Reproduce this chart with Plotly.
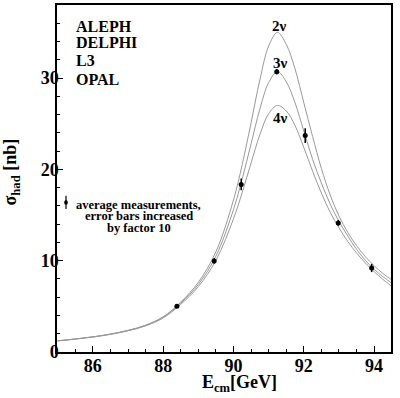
import plotly.graph_objects as go

# ---- data ----
energy = [85.0, 85.5, 86.0, 86.5, 87.0, 87.5, 88.0, 88.5, 89.0, 89.5, 90.0, 90.25,
          90.5, 90.75, 91.0, 91.25, 91.5, 91.75, 92.0, 92.25, 92.5, 92.75, 93.0,
          93.25, 93.5, 93.75, 94.0, 94.25, 94.5]
sigma_2nu = [1.23, 1.43, 1.66, 1.97, 2.37, 2.94, 3.86, 5.47, 7.63, 10.97, 16.65, 20.56,
             25.1, 29.8, 33.5, 35.0, 33.7, 31.0, 27.3, 23.6, 20.1, 17.2, 14.9,
             13.1, 11.65, 10.45, 9.45, 8.6, 7.9]
sigma_3nu = [1.22, 1.42, 1.65, 1.95, 2.35, 2.9, 3.8, 5.35, 7.4, 10.5, 15.6, 19.0,
             22.8, 26.6, 29.5, 30.7, 29.6, 27.3, 24.2, 21.1, 18.5, 16.2, 14.3,
             12.7, 11.25, 10.05, 9.05, 8.25, 7.55]
sigma_4nu = [1.21, 1.41, 1.64, 1.93, 2.32, 2.86, 3.73, 5.22, 7.16, 10.03, 14.59, 17.5,
             20.7, 23.8, 26.1, 27.0, 26.4, 24.8, 22.4, 19.8, 17.4, 15.3, 13.6,
             12.1, 10.85, 9.75, 8.8, 7.95, 7.2]

meas_E = [88.39, 89.45, 90.22, 91.23, 92.04, 92.98, 93.93]
meas_sigma = [5.02, 9.97, 18.35, 30.7, 23.7, 14.14, 9.2]
meas_err = [0.2, 0.3, 0.65, 0.3, 0.8, 0.3, 0.45]

curve_labels = ["2\u03bd", "3\u03bd", "4\u03bd"]
curve_label_pos = [(91.31, 35.65), (91.33, 31.7), (91.33, 25.6)]
experiments = ["ALEPH", "DELPHI", "L3", "OPAL"]
experiment_y = [35.7, 33.84, 31.87, 29.8]
legend_lines = ["average measurements,", "error bars increased", "by factor 10"]
legend_y = [16.1, 14.85, 13.6]

x_ticks = [86, 88, 90, 92, 94]
y_ticks = [0, 10, 20, 30]

SERIF = "Liberation Serif"
curve_color = "#999999"

fig = go.Figure()
for ys in (sigma_2nu, sigma_3nu, sigma_4nu):
    fig.add_trace(go.Scatter(x=energy, y=ys, mode="lines", line_shape="spline",
                             line=dict(color=curve_color, width=1), showlegend=False,
                             hoverinfo="skip"))

fig.add_trace(go.Scatter(x=meas_E, y=meas_sigma, mode="markers",
                         marker=dict(color="black", size=5),
                         error_y=dict(type="data", array=meas_err, visible=True,
                                      color="black", thickness=1.5, width=0),
                         showlegend=False))

annotations = []
for txt, (xx, yy) in zip(curve_labels, curve_label_pos):
    annotations.append(dict(x=xx, y=yy, xref="x", yref="y", text=txt, showarrow=False,
                            font=dict(family=SERIF, size=15, color="black", weight="bold"),
                            xanchor="center", yanchor="middle"))
for txt, yy in zip(experiments, experiment_y):
    annotations.append(dict(x=85.45, y=yy, xref="x", yref="y", text=txt, showarrow=False,
                            font=dict(family=SERIF, size=16, color="black", weight="bold"),
                            xanchor="left", yanchor="middle"))
for txt, yy in zip(legend_lines, legend_y):
    annotations.append(dict(x=87.3, y=yy, xref="x", yref="y", text=txt, showarrow=False,
                            font=dict(family=SERIF, size=12.5, color="black", weight="bold"),
                            xanchor="center", yanchor="middle"))

# axis titles
annotations.append(dict(x=0.545, y=-0.092, xref="paper", yref="paper",
                        text="E<sub>cm</sub>[GeV]", showarrow=False,
                        font=dict(family=SERIF, size=18, color="black", weight="bold"),
                        xanchor="center", yanchor="middle"))
annotations.append(dict(x=-0.135, y=0.52, xref="paper", yref="paper",
                        text="\u03c3<sub>had</sub> [nb]", showarrow=False, textangle=-90,
                        font=dict(family=SERIF, size=18, color="black", weight="bold"),
                        xanchor="center", yanchor="middle"))

# legend key (point with error bar)
shapes = [
    dict(type="line", xref="paper", yref="paper", x0=0.027, x1=0.027, y0=0.412, y1=0.450,
         line=dict(color="black", width=1.2)),
    dict(type="circle", xref="paper", yref="paper", x0=0.0215, x1=0.0325, y0=0.424, y1=0.437,
         fillcolor="black", line=dict(color="black", width=0)),
]

tickfont = dict(family=SERIF, size=18, color="black", weight="bold")
fig.update_layout(
    width=400, height=398,
    margin=dict(l=57, r=9, t=5, b=46, autoexpand=False),
    paper_bgcolor="white", plot_bgcolor="white",
    font=dict(family=SERIF, color="black"),
    annotations=annotations, shapes=shapes,
    xaxis=dict(range=[84.98, 94.48], tickvals=x_ticks, ticks="inside", ticklen=6,
               tickwidth=1, tickcolor="black", showgrid=False, zeroline=False,
               showline=True, linecolor="black", linewidth=1.5, mirror=True,
               tickfont=tickfont, ticklabelstandoff=-3, automargin=False,
               minor=dict(ticks="inside", dtick=0.5, ticklen=3, tickcolor="black",
                          showgrid=False)),
    yaxis=dict(range=[0, 38.0], tickvals=y_ticks, ticks="inside", ticklen=6,
               tickwidth=1, tickcolor="black", showgrid=False, zeroline=False,
               showline=True, linecolor="black", linewidth=1.5, mirror=True,
               tickfont=tickfont, ticklabelstandoff=-7, automargin=False,
               minor=dict(ticks="inside", dtick=2, ticklen=3, tickcolor="black",
                          showgrid=False)),
    showlegend=False,
)

fig.write_html("out.html", post_script="document.body.style.margin='0';",
               config={"displayModeBar": False})
